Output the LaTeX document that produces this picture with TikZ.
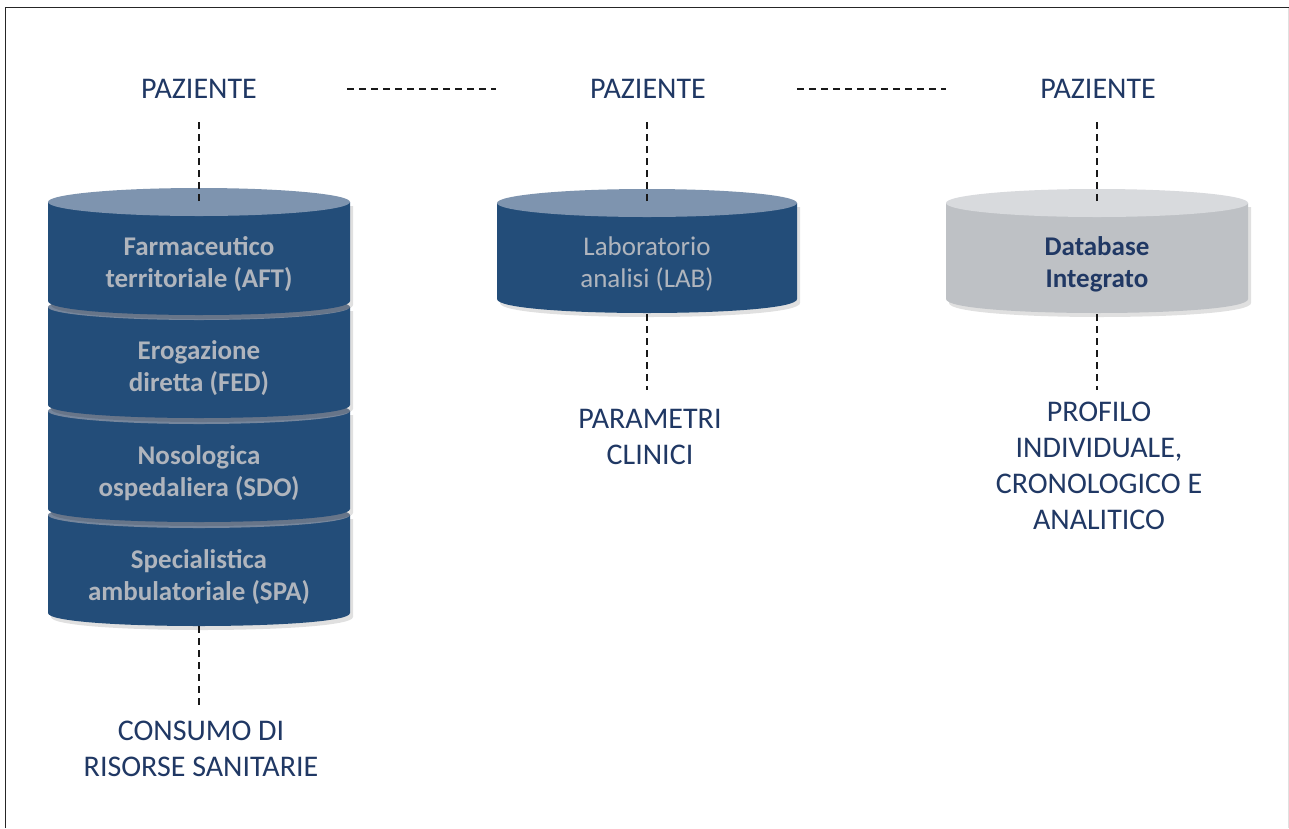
\documentclass[tikz,border=0pt]{standalone}
\usepackage{fontspec}
\setmainfont{Carlito}
\definecolor{navy}{RGB}{32,56,100}
\definecolor{cylbody}{RGB}{35,77,121}
\definecolor{cyltop}{RGB}{126,148,175}
\definecolor{cylsep}{RGB}{118,134,156}
\definecolor{cyltext}{RGB}{176,181,189}
\definecolor{dbbody}{RGB}{190,193,197}
\definecolor{dbtop}{RGB}{216,218,221}
\tikzset{
  lbl/.style={text=navy, font=\fontsize{30}{36}\selectfont, align=center, inner sep=0pt},
  segtxt/.style={text=cyltext, font=\fontsize{27}{32}\selectfont\bfseries, align=center, inner sep=0pt},
  conn/.style={line width=1.8pt, dash pattern=on 7pt off 5pt, black!90},
}
% \cylpart{cx}{ytop}{ybot}{rx}{ry}{body}{top}
\newcommand\cylpart[7]{%
  \fill[black, opacity=0.12] ({#1-#4+3},{#2+4}) -- ({#1-#4+3},{#3+4}) .. controls ({#1-#4+3},{#3+4+1.333*#5}) and ({#1+#4+3},{#3+4+1.333*#5}) .. ({#1+#4+3},{#3+4}) -- ({#1+#4+3},{#2+4}) -- cycle;
  \fill[#6] ({#1-#4},#2) -- ({#1-#4},#3) .. controls ({#1-#4},{#3+1.333*#5}) and ({#1+#4},{#3+1.333*#5}) .. ({#1+#4},#3) -- ({#1+#4},#2) -- cycle;
  \fill[#7] (#1,#2) ellipse [x radius=#4pt, y radius=#5pt];
}
\begin{document}
\begin{tikzpicture}[x=1pt,y=-1pt]
\useasboundingbox (0,0) rectangle (1289,828);
\fill[white] (0,0) rectangle (1289,828);
% frame
\draw[line width=1.4pt, black!85] (5.5,828) -- (5.5,7.5) -- (1289,7.5);
\draw[line width=1pt, black!12] (1288,8) -- (1288,828);

% left stacked cylinder (drawn bottom to top)
\cylpart{199}{515}{613}{151}{13}{cylbody}{cylsep}
\cylpart{199}{411}{509}{151}{13}{cylbody}{cylsep}
\cylpart{199}{307}{405}{151}{13}{cylbody}{cylsep}
\cylpart{199}{202}{301}{151}{14}{cylbody}{cyltop}
% middle cylinder
\cylpart{647}{203}{299}{150}{14}{cylbody}{cyltop}
% right cylinder
\cylpart{1097}{203}{299}{151}{14}{dbbody}{dbtop}

% cylinder texts
\node[segtxt] (aft) at (199,264) {Farmaceutico\\territoriale (AFT)};
\node[segtxt] (fed) at (199,368) {Erogazione\\diretta (FED)};
\node[segtxt] (sdo) at (199,473) {Nosologica\\ospedaliera (SDO)};
\node[segtxt] (spa) at (199,577) {Specialistica\\ambulatoriale (SPA)};
\node[segtxt, font=\fontsize{27}{32}\selectfont] (lab) at (647,264) {Laboratorio\\analisi (LAB)};
\node[segtxt, text=navy] (db) at (1097,264) {Database\\Integrato};

% labels
\node[lbl] (p1) at (199,89) {PAZIENTE};
\node[lbl] (p2) at (648,89) {PAZIENTE};
\node[lbl] (p3) at (1098,89) {PAZIENTE};
\node[lbl] (cons) at (201,749) {CONSUMO DI\\RISORSE SANITARIE};
\node[lbl] (par) at (650,437) {PARAMETRI\\CLINICI};
\node[lbl] (prof) at (1099,466) {PROFILO\\INDIVIDUALE,\\CRONOLOGICO E\\ANALITICO};

% connector end points
\coordinate (c1t) at (199,201);
\coordinate (c1b) at (199,626);
\coordinate (c2t) at (647,201);
\coordinate (c2b) at (647,314);
\coordinate (c3t) at (1097,201);
\coordinate (c3b) at (1097,314);
\coordinate (h1a) at ([xshift=148pt]p1.center);
\coordinate (h1b) at ([xshift=-152pt]p2.center);
\coordinate (h2a) at ([xshift=149pt]p2.center);
\coordinate (h2b) at ([xshift=-152pt]p3.center);

\draw[conn] (h1a) -- (h1b);
\draw[conn] (h2a) -- (h2b);
\draw[conn] (c1t) -- (199,122);
\draw[conn] (c1b) -- (199,705);
\draw[conn] (c2t) -- (647,122);
\draw[conn] (c2b) -- (647,390);
\draw[conn] (c3t) -- (1097,122);
\draw[conn] (c3b) -- (1097,390);
\end{tikzpicture}
\end{document}
